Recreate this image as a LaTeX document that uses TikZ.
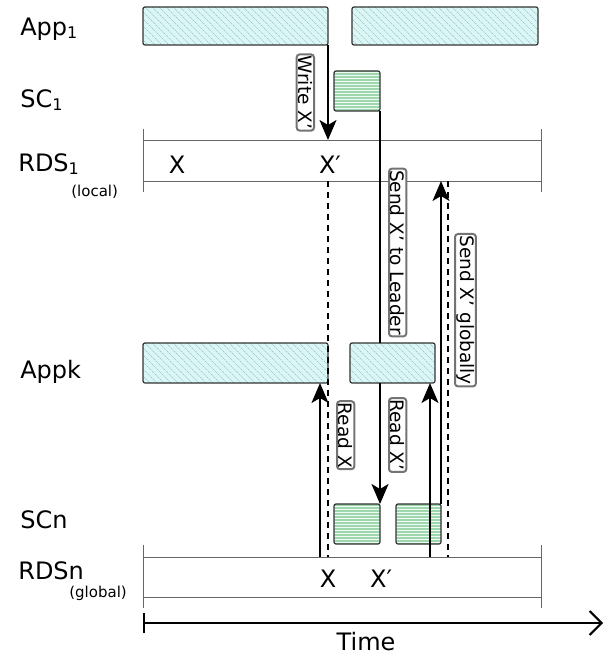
\documentclass[tikz,border=0pt]{standalone}
\usepackage{fontspec}
\setmainfont{DejaVu Sans}
\usetikzlibrary{arrows.meta,positioning}

\definecolor{appfill}{RGB}{216,247,247}
\definecolor{scfill}{RGB}{158,214,174}

\newcommand{\lanefont}{\fontsize{24}{28}\selectfont}
\newcommand{\smallfont}{\fontsize{15}{18}\selectfont}
\newcommand{\msgfont}{\fontsize{18.5}{22}\selectfont}
\newcommand{\lanesub}[1]{\raisebox{-3pt}{\fontsize{16}{18}\selectfont #1}}

\begin{document}
\begin{tikzpicture}[x=1pt,y=-1pt,>={Stealth[length=20pt,width=17pt,inset=5pt]}]
            \tikzstyle{every node}=[outer sep=0pt]
            \tikzstyle{appbar}=[draw=black!80, line width=1.2pt, rounded corners=2pt, anchor=north west, fill=appfill,
                path picture={\foreach \k in {-40,-33,...,190}
                    \draw[black!30, line width=.4pt, dash pattern=on 1.5pt off .8pt] ([xshift=\k pt]path picture bounding box.north west) -- ++(45,45);}]
            \tikzstyle{scbox}=[draw=black!80, line width=1.2pt, rounded corners=2pt, anchor=north west, fill=scfill,
                path picture={\foreach \k in {2,5,...,44}
                    \draw[white!85!scfill, line width=1pt] ([yshift=-\k pt]path picture bounding box.north west) -- ++(60,0);}]
            \tikzstyle{band}=[anchor=north west, minimum width=398pt, inner sep=0pt]
            \tikzstyle{bandline}=[draw=black!60, line width=1pt]
            \tikzstyle{lane}=[anchor=base west, font=\lanefont]
            \tikzstyle{value}=[anchor=base, font=\lanefont]
            \tikzstyle{lbl}=[rotate=-90, draw=black!55, fill=white, rounded corners=3pt, inner sep=1.5pt, font=\msgfont]
            \tikzstyle{msg}=[line width=2pt]
            \tikzstyle{copy}=[line width=2pt, dash pattern=on 6pt off 5pt]

            \useasboundingbox (0,0) rectangle (610,658);

            % lanes
            \node[lane] (lapp1) at (17,36)  {App\lanesub{1}};
            \node[lane] (lsc1)  at (17,108) {SC\lanesub{1}};
            \node[lane] (lrds1) at (15,171) {RDS\lanesub{1}};
            \node[anchor=base west, font=\smallfont] (lloc) at (68,196) {(local)};
            \node[lane] (lappk) at (17,378) {Appk};
            \node[lane] (lscn)  at (17,528) {SCn};
            \node[lane] (lrdsn) at (15,579) {RDSn};
            \node[anchor=base west, font=\smallfont] (lglob) at (66,597) {(global)};

            % activity
            \node[appbar, minimum width=185pt, minimum height=38pt] (app1a) at (143,7)   {};
            \node[appbar, minimum width=186pt, minimum height=38pt] (app1b) at (352,7)   {};
            \node[scbox,  minimum width=46pt,  minimum height=40pt] (sc1)   at (334,71)  {};
            \node[appbar, minimum width=185pt, minimum height=40pt] (appka) at (143,343) {};
            \node[appbar, minimum width=85pt,  minimum height=40pt] (appkb) at (350,343) {};
            \node[scbox,  minimum width=46pt,  minimum height=40pt] (scna)  at (334,504) {};
            \node[scbox,  minimum width=45pt,  minimum height=40pt] (scnb)  at (396,504) {};

            % stores
            \node[band, minimum height=41pt] (rds1) at (143,140) {};
            \node[band, minimum height=40pt] (rdsn) at (143,557) {};
            \draw[bandline] (rds1.north west) -- (rds1.north east) (rds1.south west) -- (rds1.south east)
                ([yshift=11pt]rds1.north west) -- ([yshift=-11pt]rds1.south west)
                ([yshift=11pt]rds1.north east) -- ([yshift=-11pt]rds1.south east);
            \draw[bandline] (rdsn.north west) -- (rdsn.north east) (rdsn.south west) -- (rdsn.south east)
                ([yshift=12pt]rdsn.north west) -- ([yshift=-11pt]rdsn.south west)
                ([yshift=12pt]rdsn.north east) -- ([yshift=-11pt]rdsn.south east);

            \node[value] (x1)  at (177,173) {X};
            \node[value] (x1p) at (330,173) {X′};
            \node[value] (xn)  at (328,587) {X};
            \node[value] (xnp) at (381,587) {X′};

            % versions
            \draw[copy] (app1a.east |- rds1.south) -- (app1a.east |- rdsn.north);
            \draw[copy] ([xshift=7pt]scnb.east |- rds1.south) -- ([xshift=7pt]scnb.east |- rdsn.north);

            % messages
            \path[->, msg]
                    (app1a.south east) edge node[xshift=-14pt, lbl, anchor=north] {Write X’} (app1a.south east |- rds1.north)
                    (sc1.south east |- appkb.south) edge node[pos=.43, xshift=9pt, lbl, anchor=south] {Read X’} (scna.north east)
                    ([xshift=-8pt]appka.south east |- rdsn.north) edge node[pos=.7, xshift=17pt, lbl, anchor=south] {Read X} ([xshift=-8pt]appka.south east)
                    ([xshift=-5pt]appkb.south east |- rdsn.north) edge ([xshift=-5pt]appkb.south east)
                    (scnb.north east) edge node[pos=.6, xshift=14pt, lbl, anchor=south] {Send X’ globally} (scnb.north east |- rds1.south)
                ;
            \path[msg]
                    (sc1.south east) edge node[pos=.61, xshift=9pt, lbl, anchor=south] {Send X’ to Leader} (sc1.south east |- appkb.north)
                ;

            % time
            \coordinate (t0) at (143,623);
            \coordinate (t1) at (603,623);
            \draw[line width=2pt, {Bar[width=20pt]}-{Straight Barb[length=12pt,width=24pt,line width=2pt]}] (t0) -- (t1);
            \node[value] (time) at (366,650) {Time};
        \end{tikzpicture}
\end{document}
